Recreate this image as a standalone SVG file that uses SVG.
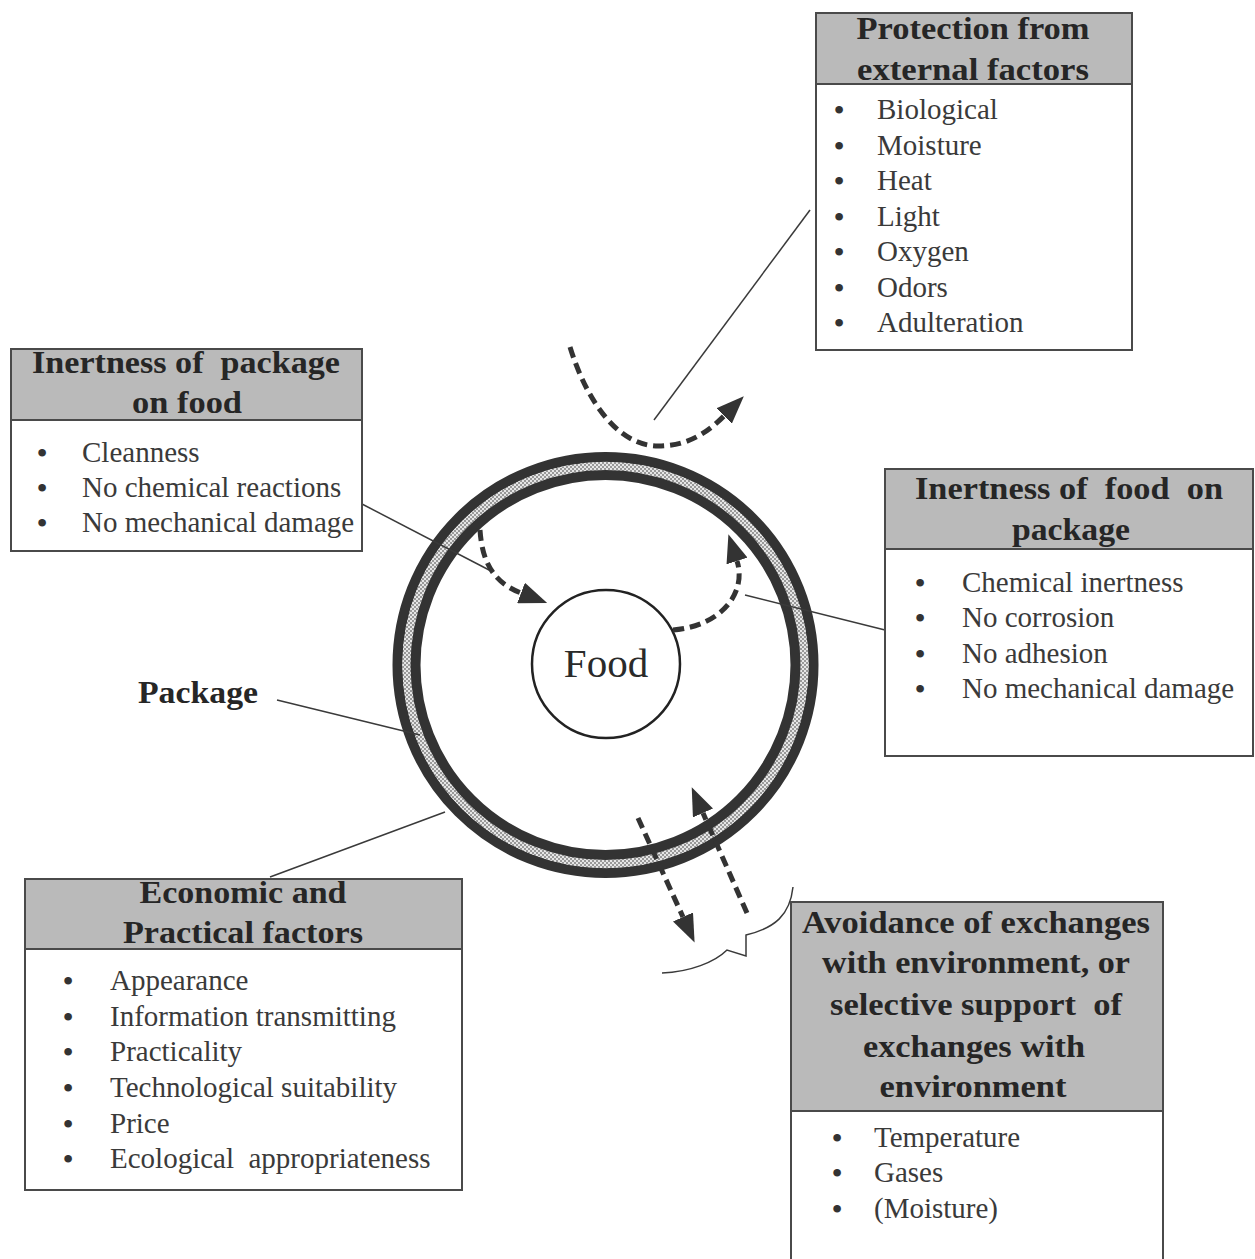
<svg xmlns="http://www.w3.org/2000/svg" width="1255" height="1259" viewBox="0 0 1255 1259">
<defs>
<style>
.box{fill:#ffffff;stroke:#4a4a4a;stroke-width:2}
.hdr{fill:#bababa;stroke:#4a4a4a;stroke-width:2}
.ht{font-family:"Liberation Serif","Times New Roman",serif;font-weight:bold;font-size:31px;fill:#262626;text-anchor:middle;white-space:pre}
.it{font-family:"Liberation Serif","Times New Roman",serif;font-size:29px;fill:#3a3a3a;white-space:pre}
.bl{font-family:"Liberation Serif","Times New Roman",serif;font-size:32px;fill:#333333;text-anchor:middle}
.conn{fill:none;stroke:#3a3a3a;stroke-width:1.5}
.dash{fill:none;stroke:#333333;stroke-width:5;stroke-dasharray:11 6;marker-end:url(#ah)}
</style>
<pattern id="hatch" width="4" height="4" patternUnits="userSpaceOnUse">
<rect width="4" height="4" fill="#e6e6e6"/>
<rect width="2" height="2" fill="#999999"/>
<rect x="2" y="2" width="2" height="2" fill="#999999"/>
</pattern>
<marker id="ah" viewBox="0 0 28 22" refX="0" refY="11" markerWidth="28" markerHeight="22" markerUnits="userSpaceOnUse" orient="auto">
<path d="M0,0 L28,11 L0,22 z" fill="#333333"/>
</marker>
</defs>
<rect width="1255" height="1259" fill="#ffffff"/>

<g id="package">
<circle cx="605.5" cy="665" r="208" fill="none" stroke="#333333" stroke-width="10"/>
<circle cx="605.5" cy="665" r="199" fill="none" stroke="url(#hatch)" stroke-width="8.5"/>
<circle cx="605.5" cy="665" r="190" fill="none" stroke="#333333" stroke-width="10"/>
</g>

<g id="food">
<circle cx="606" cy="664" r="74" fill="#ffffff" stroke="#222222" stroke-width="2.5"/>
<text x="606" y="677" font-family="'Liberation Serif','Times New Roman',serif" font-size="41" fill="#2a2a2a" text-anchor="middle">Food</text>
</g>

<g id="package-label">
<text x="138" y="703" font-family="'Liberation Serif','Times New Roman',serif" font-weight="bold" font-size="32" fill="#262626" textLength="120" lengthAdjust="spacingAndGlyphs">Package</text>
</g>

<g id="connectors">
<line class="conn" x1="810" y1="210" x2="654" y2="420"/>
<line class="conn" x1="362" y1="504" x2="491" y2="571"/>
<line class="conn" x1="885" y1="630" x2="745" y2="595"/>
<line class="conn" x1="277" y1="700" x2="420" y2="735"/>
<line class="conn" x1="270" y1="877" x2="445" y2="812"/>
<path class="conn" d="M662,973 C690,972 715,962 727,950 L746,956 L746,935 C775,928 790,915 793,887"/>
<path class="dash" d="M570,347 C588,405 620,446 658,446 C683,446 703,437 724,416"/>
<path class="dash" d="M480,530 C482,560 492,582 521,593"/>
<path class="dash" d="M673,630 C722,626 747,592 737,561"/>
<path class="dash" d="M638,818 L683,917"/>
<path class="dash" d="M747,913 L703,813"/>
</g>

<g id="protection">
<rect class="box" x="816" y="13" width="316" height="337"/>
<rect class="hdr" x="816" y="13" width="316" height="71"/>
<text class="ht" x="973" y="39" textLength="233" lengthAdjust="spacingAndGlyphs">Protection from</text>
<text class="ht" x="973" y="80" textLength="232" lengthAdjust="spacingAndGlyphs">external factors</text>
<text class="bl" x="839" y="121">•</text><text class="it" x="877" y="119">Biological</text>
<text class="bl" x="839" y="157">•</text><text class="it" x="877" y="155">Moisture</text>
<text class="bl" x="839" y="192">•</text><text class="it" x="877" y="190">Heat</text>
<text class="bl" x="839" y="228">•</text><text class="it" x="877" y="226">Light</text>
<text class="bl" x="839" y="263">•</text><text class="it" x="877" y="261">Oxygen</text>
<text class="bl" x="839" y="299">•</text><text class="it" x="877" y="297">Odors</text>
<text class="bl" x="839" y="334">•</text><text class="it" x="877" y="332">Adulteration</text>
</g>

<g id="inert-package">
<rect class="box" x="11" y="349" width="351" height="202"/>
<rect class="hdr" x="11" y="349" width="351" height="71"/>
<text class="ht" x="186" y="373" textLength="308" lengthAdjust="spacingAndGlyphs">Inertness of  package</text>
<text class="ht" x="187" y="413" textLength="110" lengthAdjust="spacingAndGlyphs">on food</text>
<text class="bl" x="42" y="464">•</text><text class="it" x="82" y="462">Cleanness</text>
<text class="bl" x="42" y="499">•</text><text class="it" x="82" y="497">No chemical reactions</text>
<text class="bl" x="42" y="534">•</text><text class="it" x="82" y="532">No mechanical damage</text>
</g>

<g id="inert-food">
<rect class="box" x="885" y="469" width="368" height="287"/>
<rect class="hdr" x="885" y="469" width="368" height="80"/>
<text class="ht" x="1069" y="499" textLength="308" lengthAdjust="spacingAndGlyphs">Inertness of  food  on</text>
<text class="ht" x="1071" y="540" textLength="118" lengthAdjust="spacingAndGlyphs">package</text>
<text class="bl" x="920" y="594">•</text><text class="it" x="962" y="592">Chemical inertness</text>
<text class="bl" x="920" y="629">•</text><text class="it" x="962" y="627">No corrosion</text>
<text class="bl" x="920" y="665">•</text><text class="it" x="962" y="663">No adhesion</text>
<text class="bl" x="920" y="700">•</text><text class="it" x="962" y="698">No mechanical damage</text>
</g>

<g id="economic">
<rect class="box" x="25" y="879" width="437" height="311"/>
<rect class="hdr" x="25" y="879" width="437" height="70"/>
<text class="ht" x="243" y="903" textLength="207" lengthAdjust="spacingAndGlyphs">Economic and</text>
<text class="ht" x="243" y="943" textLength="240" lengthAdjust="spacingAndGlyphs">Practical factors</text>
<text class="bl" x="68" y="992">•</text><text class="it" x="110" y="990">Appearance</text>
<text class="bl" x="68" y="1028">•</text><text class="it" x="110" y="1026">Information transmitting</text>
<text class="bl" x="68" y="1063">•</text><text class="it" x="110" y="1061">Practicality</text>
<text class="bl" x="68" y="1099">•</text><text class="it" x="110" y="1097">Technological suitability</text>
<text class="bl" x="68" y="1135">•</text><text class="it" x="110" y="1133">Price</text>
<text class="bl" x="68" y="1170">•</text><text class="it" x="110" y="1168">Ecological  appropriateness</text>
</g>

<g id="avoidance">
<rect class="box" x="791" y="902" width="372" height="380"/>
<rect class="hdr" x="791" y="902" width="372" height="209"/>
<text class="ht" x="976" y="933" textLength="348" lengthAdjust="spacingAndGlyphs">Avoidance of exchanges</text>
<text class="ht" x="976" y="973" textLength="308" lengthAdjust="spacingAndGlyphs">with environment, or</text>
<text class="ht" x="976" y="1015" textLength="292" lengthAdjust="spacingAndGlyphs">selective support  of</text>
<text class="ht" x="974" y="1057" textLength="222" lengthAdjust="spacingAndGlyphs">exchanges with</text>
<text class="ht" x="973" y="1097" textLength="187" lengthAdjust="spacingAndGlyphs">environment</text>
<text class="bl" x="837" y="1149">•</text><text class="it" x="874" y="1147">Temperature</text>
<text class="bl" x="837" y="1184">•</text><text class="it" x="874" y="1182">Gases</text>
<text class="bl" x="837" y="1220">•</text><text class="it" x="874" y="1218">(Moisture)</text>
</g>
</svg>
